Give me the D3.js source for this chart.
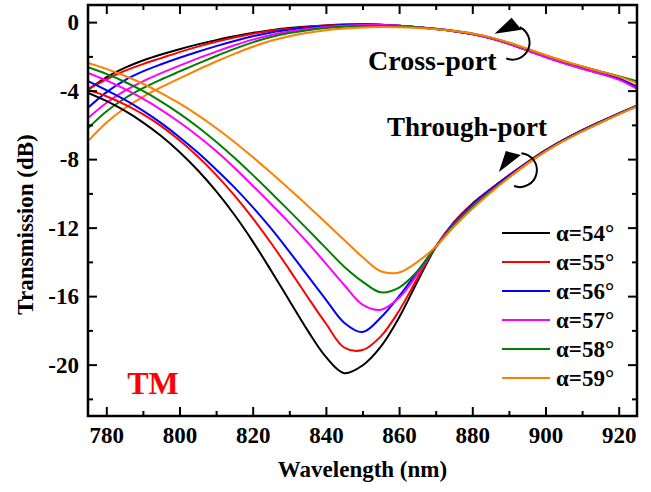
<!DOCTYPE html>
<html>
<head>
<meta charset="utf-8">
<script src="https://cdn.jsdelivr.net/npm/d3@7"></script>
<style>
  html, body { margin: 0; padding: 0; background: #fff; }
  svg { display: block; }
  text { font-family: "Liberation Serif", "Times New Roman", serif; font-weight: bold; }
</style>
</head>
<body>
<div id="chart"></div>
<script>
// TM transmission spectra, through-port and cross-port, for six angles

// wavelength grid (nm)
const wavelength = [775, 780, 785, 790, 795, 800, 805, 810, 815, 820, 825, 830, 835, 840, 845, 850,
                    855, 860, 865, 870, 875, 880, 885, 890, 895, 900, 905, 910, 915, 920, 925];

const angleLabels = ["α=54°", "α=55°", "α=56°", "α=57°", "α=58°", "α=59°"];
const angleColors = ["#000000", "#ff0000", "#0000ff", "#ff00ff", "#008000", "#ff8000"];

// through-port transmission (dB)
const through54 = [-4.13, -4.6, -5.17, -5.85, -6.65, -7.58, -8.65, -9.87, -11.25, -12.8, -14.5, -16.25, -18.0, -19.55, -20.5, -20.05,
                   -18.95, -17.25, -15.15, -13.15, -11.68, -10.6, -9.75, -8.95, -8.19, -7.48, -6.86, -6.31, -5.81, -5.33, -4.88];
const through55 = [-3.95, -4.33, -4.8, -5.37, -6.07, -6.9, -7.85, -8.92, -10.12, -11.45, -12.9, -14.45, -16.05, -17.6, -19.0, -19.15,
                   -18.35, -16.85, -14.95, -13.12, -11.7, -10.62, -9.76, -8.96, -8.2, -7.49, -6.87, -6.32, -5.82, -5.34, -4.88];
const through56 = [-3.45, -3.97, -4.53, -5.17, -5.9, -6.72, -7.62, -8.6, -9.65, -10.8, -12.05, -13.4, -14.8, -16.2, -17.55, -18.1,
                   -17.25, -16.0, -14.58, -13.12, -11.74, -10.66, -9.79, -8.98, -8.22, -7.5, -6.88, -6.33, -5.83, -5.35, -4.88];
const through57 = [-2.96, -3.4, -3.9, -4.47, -5.12, -5.85, -6.65, -7.53, -8.5, -9.55, -10.62, -11.72, -12.88, -14.1, -15.35, -16.5,
                   -16.8, -16.1, -14.72, -13.12, -11.82, -10.76, -9.87, -9.04, -8.26, -7.54, -6.92, -6.37, -5.86, -5.37, -4.9];
const through58 = [-2.63, -3.02, -3.48, -4.02, -4.64, -5.34, -6.12, -6.98, -7.92, -8.92, -9.96, -11.02, -12.1, -13.2, -14.28, -15.15,
                   -15.78, -15.5, -14.55, -13.15, -11.86, -10.8, -9.9, -9.06, -8.27, -7.54, -6.92, -6.37, -5.86, -5.37, -4.9];
const through59 = [-2.38, -2.73, -3.13, -3.6, -4.14, -4.75, -5.43, -6.18, -7.0, -7.88, -8.8, -9.75, -10.72, -11.72, -12.72, -13.72,
                   -14.55, -14.62, -14.0, -13.12, -11.95, -10.9, -9.96, -9.09, -8.28, -7.56, -6.94, -6.39, -5.88, -5.39, -4.92];

// cross-port transmission (dB)
const cross54 = [-3.95, -3.22, -2.67, -2.24, -1.89, -1.58, -1.3, -1.05, -0.83, -0.63, -0.47, -0.35, -0.26, -0.19, -0.14, -0.13,
                 -0.15, -0.21, -0.3, -0.4, -0.53, -0.7, -0.94, -1.27, -1.65, -2.03, -2.38, -2.7, -3.0, -3.32, -3.8];
const cross55 = [-3.9, -3.35, -2.85, -2.45, -2.1, -1.75, -1.43, -1.15, -0.9, -0.68, -0.5, -0.38, -0.28, -0.2, -0.15, -0.13,
                 -0.15, -0.21, -0.3, -0.4, -0.53, -0.7, -0.94, -1.26, -1.64, -2.02, -2.37, -2.69, -2.98, -3.3, -3.75];
const cross56 = [-5.0, -4.1, -3.4, -2.88, -2.46, -2.08, -1.73, -1.4, -1.1, -0.83, -0.6, -0.44, -0.32, -0.23, -0.17, -0.14,
                 -0.15, -0.21, -0.3, -0.4, -0.53, -0.7, -0.93, -1.25, -1.63, -2.01, -2.36, -2.68, -2.97, -3.3, -3.8];
const cross57 = [-5.6, -4.72, -4.02, -3.46, -2.98, -2.54, -2.12, -1.72, -1.35, -1.02, -0.75, -0.55, -0.4, -0.29, -0.21, -0.17,
                 -0.17, -0.21, -0.29, -0.39, -0.52, -0.69, -0.94, -1.27, -1.66, -2.05, -2.4, -2.72, -3.02, -3.36, -3.9];
const cross58 = [-6.2, -5.22, -4.46, -3.86, -3.35, -2.88, -2.42, -1.98, -1.56, -1.18, -0.87, -0.64, -0.47, -0.35, -0.27, -0.23,
                 -0.22, -0.24, -0.3, -0.39, -0.51, -0.67, -0.9, -1.21, -1.57, -1.94, -2.28, -2.59, -2.88, -3.16, -3.45];
const cross59 = [-6.95, -5.88, -5.03, -4.36, -3.8, -3.28, -2.78, -2.3, -1.85, -1.44, -1.09, -0.82, -0.62, -0.47, -0.37, -0.31,
                 -0.29, -0.3, -0.34, -0.41, -0.52, -0.67, -0.89, -1.19, -1.55, -1.92, -2.27, -2.58, -2.88, -3.18, -3.55];

const throughSeries = [through54, through55, through56, through57, through58, through59];
const crossSeries   = [cross54, cross55, cross56, cross57, cross58, cross59];

const xTicks = [780, 800, 820, 840, 860, 880, 900, 920];
const xMinor = [790, 810, 830, 850, 870, 890, 910];
const yTicks = [0, -4, -8, -12, -16, -20];
const yMinor = [-2, -6, -10, -14, -18, -22];

// 1) dimensions
const W = 651, H = 492;
const margin = { top: 5, right: 14, bottom: 76, left: 88 };
const innerW = W - margin.left - margin.right;
const innerH = H - margin.top - margin.bottom;

const svg = d3.select("#chart").append("svg")
  .attr("width", W)
  .attr("height", H);

const x = d3.scaleLinear().domain([775, 925]).range([0, innerW]);
const y = d3.scaleLinear().domain([-23, 1]).range([innerH, 0]);

const g = svg.append("g")
  .attr("transform", `translate(${margin.left},${margin.top})`);

g.append("clipPath").attr("id", "clip")
  .append("rect").attr("width", innerW).attr("height", innerH);

// 2) curves
const line = d3.line()
  .x((d, i) => x(wavelength[i]))
  .y(d => y(d))
  .curve(d3.curveCatmullRom.alpha(0.5));

const curves = g.append("g").attr("clip-path", "url(#clip)");
crossSeries.forEach((s, i) => {
  curves.append("path")
    .attr("d", line(s))
    .attr("fill", "none")
    .attr("stroke", angleColors[i])
    .attr("stroke-width", 2);
});
throughSeries.forEach((s, i) => {
  curves.append("path")
    .attr("d", line(s))
    .attr("fill", "none")
    .attr("stroke", angleColors[i])
    .attr("stroke-width", 2);
});

// 3) axes, ticks inward on all four sides
function styleAxis(sel) {
  sel.select(".domain").remove();
  sel.selectAll(".tick line").attr("stroke", "#000").attr("stroke-width", 2);
  sel.selectAll("text").attr("fill", "#000").style("font-size", "23px");
}

g.append("g").attr("transform", `translate(0,${innerH})`)
  .call(d3.axisBottom(x).tickValues(xTicks).tickSize(-9).tickPadding(11).tickFormat(d3.format("d")))
  .call(styleAxis);
g.append("g").attr("transform", `translate(0,${innerH})`)
  .call(d3.axisBottom(x).tickValues(xMinor).tickSize(-5).tickFormat(""))
  .call(styleAxis);
g.append("g")
  .call(d3.axisTop(x).tickValues(xTicks).tickSize(-9).tickFormat(""))
  .call(styleAxis);
g.append("g")
  .call(d3.axisTop(x).tickValues(xMinor).tickSize(-5).tickFormat(""))
  .call(styleAxis);

g.append("g")
  .call(d3.axisLeft(y).tickValues(yTicks).tickSize(-9).tickPadding(9).tickFormat(d => d3.format("d")(d).replace("−", "-")))
  .call(styleAxis);
g.append("g")
  .call(d3.axisLeft(y).tickValues(yMinor).tickSize(-5).tickFormat(""))
  .call(styleAxis);
g.append("g").attr("transform", `translate(${innerW},0)`)
  .call(d3.axisRight(y).tickValues(yTicks).tickSize(-9).tickFormat(""))
  .call(styleAxis);
g.append("g").attr("transform", `translate(${innerW},0)`)
  .call(d3.axisRight(y).tickValues(yMinor).tickSize(-5).tickFormat(""))
  .call(styleAxis);

// frame
g.append("rect")
  .attr("width", innerW).attr("height", innerH)
  .attr("fill", "none").attr("stroke", "#000").attr("stroke-width", 2.5);

// 4) axis titles
svg.append("text")
  .attr("x", margin.left + innerW / 2)
  .attr("y", 477)
  .attr("text-anchor", "middle")
  .style("font-size", "23px")
  .text("Wavelength (nm)");

svg.append("text")
  .attr("transform", `translate(33,${margin.top + innerH / 2 + 14}) rotate(-90)`)
  .attr("text-anchor", "middle")
  .style("font-size", "23px")
  .text("Transmission (dB)");

// 5) annotations (placed in data units)
g.append("text")
  .attr("x", x(785.7)).attr("y", y(-21.7))
  .attr("fill", "#ff0000")
  .style("font-size", "32px")
  .text("TM");

g.append("text")
  .attr("x", x(851.5)).attr("y", y(-2.77))
  .style("font-size", "28px")
  .text("Cross-port");

g.append("text")
  .attr("x", x(856.7)).attr("y", y(-6.63))
  .style("font-size", "27px")
  .text("Through-port");

// curved arrows
function curvedArrow(cx, cy, r, a0, a1, head) {
  const p = d3.path();
  p.arc(cx, cy, r, a0 * Math.PI / 180, a1 * Math.PI / 180);
  g.append("path").attr("d", p.toString())
    .attr("fill", "none").attr("stroke", "#000").attr("stroke-width", 2);
  g.append("path")
    .attr("d", "M" + head.map(q => [cx + q[0], cy + q[1]].join(",")).join("L") + "Z")
    .attr("fill", "#000");
}
curvedArrow(x(891.0), y(-1.2), 17, -65, 112, [[-18, -9], [-1, -25], [9, -13]]);
curvedArrow(x(893.0), y(-8.64), 17, -85, 110, [[-21, 2], [-14, -19], [1, -15]]);

// 6) legend
const legend = svg.append("g").attr("transform", "translate(502,233)");
angleLabels.forEach((lab, i) => {
  const row = legend.append("g").attr("transform", `translate(0,${i * 29})`);
  row.append("line")
    .attr("x1", 0).attr("x2", 48)
    .attr("stroke", angleColors[i]).attr("stroke-width", 2);
  row.append("text")
    .attr("x", 54).attr("y", 8)
    .style("font-size", "23px")
    .text(lab);
});
</script>
</body>
</html>
